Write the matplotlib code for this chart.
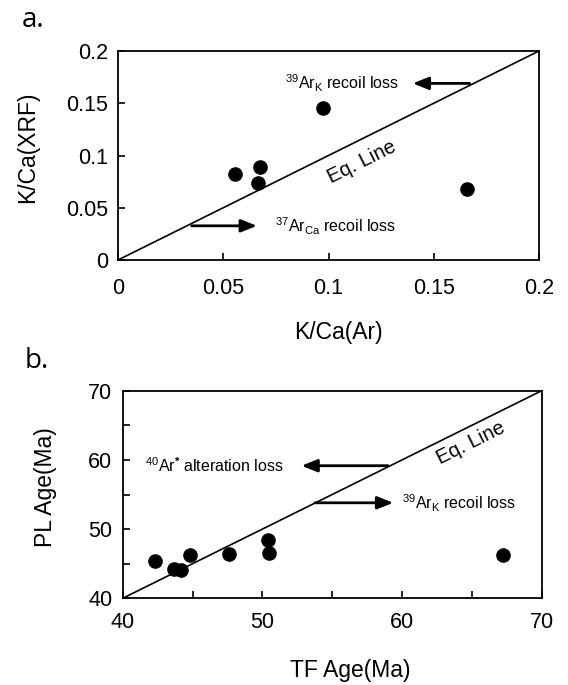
import matplotlib
matplotlib.use("Agg")
import matplotlib.pyplot as plt
import numpy as np

plt.rcParams['font.family'] = ['Liberation Sans', 'DejaVu Sans']
plt.rcParams['mathtext.fontset'] = 'custom'
plt.rcParams['mathtext.rm'] = 'Liberation Sans'
plt.rcParams['mathtext.it'] = 'Liberation Sans:italic'
plt.rcParams['mathtext.bf'] = 'Liberation Sans:bold'

# Panel a data
kca_ar = [0.0556, 0.0676, 0.0665, 0.0975, 0.166]
kca_xrf = [0.082, 0.089, 0.0734, 0.145, 0.068]

# Panel b data
tf_age = [42.3, 43.7, 44.2, 44.8, 47.6, 50.4, 50.5, 67.25]
pl_age = [45.4, 44.3, 44.1, 46.2, 46.4, 48.4, 46.6, 46.2]

fig = plt.figure(figsize=(5.68, 6.85), dpi=100)

W, H = 568, 685
def rect(l, t, r, b):
    return [l / W, 1 - b / H, (r - l) / W, (b - t) / H]

axa = fig.add_axes(rect(118, 51, 539, 260))
axb = fig.add_axes(rect(122.7, 390.7, 541.7, 598.3))

mk = dict(marker='o', ms=9.5, color='black', ls='none')
ann_fs = 11.5
arrow_kw = dict(arrowstyle='-|>,head_length=0.95,head_width=0.38', lw=2, color='black', shrinkA=0, shrinkB=0)

# ---- Panel a
axa.plot([0, 0.2], [0, 0.2], color='black', lw=1.2)
axa.plot(kca_ar, kca_xrf, **mk)
axa.set_xlim(0, 0.2)
axa.set_ylim(0, 0.2)
axa.set_xticks([0, 0.05, 0.1, 0.15, 0.2])
axa.set_xticklabels(['0', '0.05', '0.1', '0.15', '0.2'])
axa.set_yticks([0, 0.05, 0.1, 0.15, 0.2])
axa.set_yticklabels(['0', '0.05', '0.1', '0.15', '0.2'])
axa.tick_params(direction='in', length=5, width=1.2, labelsize=15.5)
axa.tick_params(axis='x', pad=13)
axa.tick_params(axis='y', pad=7)
axa.set_xlabel('K/Ca(Ar)', fontsize=16.5)
axa.set_ylabel('K/Ca(XRF)', fontsize=16.5)
axa.xaxis.set_label_coords((338 - 118) / 421, -(332 - 260) / 209)
axa.xaxis.label.set_va('center')
axa.yaxis.set_label_coords((28 - 118) / 421, (260 - 147) / 209)
axa.yaxis.label.set_va('center')
for s in axa.spines.values():
    s.set_linewidth(1.3)

axa.annotate('', xy=(0.140, 0.169), xytext=(0.167, 0.169), arrowprops=arrow_kw)
axa.text(0.0795, 0.169, r'$^{39}$Ar$_{\mathrm{K}}$ recoil loss', fontsize=ann_fs, va='center', ha='left')
axa.annotate('', xy=(0.066, 0.0327), xytext=(0.035, 0.0327), arrowprops=arrow_kw)
axa.text(0.0745, 0.0327, r'$^{37}$Ar$_{\mathrm{Ca}}$ recoil loss', fontsize=ann_fs, va='center', ha='left')
axa.text(0.116, 0.094, 'Eq. Line', fontsize=14.5, rotation=26.4, ha='center', va='center', rotation_mode='anchor')

# ---- Panel b
axb.plot([40, 70], [40, 70], color='black', lw=1.2)
axb.plot(tf_age, pl_age, **mk)
axb.set_xlim(40, 70)
axb.set_ylim(40, 70)
axb.set_xticks([40, 50, 60, 70])
axb.set_xticks([45, 55, 65], minor=True)
axb.set_yticks([40, 50, 60, 70])
axb.set_yticks([45, 55, 65], minor=True)
axb.tick_params(which='both', direction='in', length=5, width=1.2, labelsize=15.5)
axb.tick_params(axis='x', pad=10)
axb.tick_params(axis='y', pad=7.5)
axb.set_xlabel('TF Age(Ma)', fontsize=16.5)
axb.set_ylabel('PL Age(Ma)', fontsize=16.5)
axb.xaxis.set_label_coords((350 - 122.7) / 419, -(670 - 598.3) / 207.6)
axb.xaxis.label.set_va('center')
axb.yaxis.set_label_coords((45 - 122.7) / 419, (598.3 - 487) / 207.6)
axb.yaxis.label.set_va('center')
for s in axb.spines.values():
    s.set_linewidth(1.3)

axb.annotate('', xy=(52.8, 59.16), xytext=(59.0, 59.16), arrowprops=arrow_kw)
axb.text(41.6, 59.16, r'$^{40}$Ar$^{\mathbf{*}}$ alteration loss', fontsize=ann_fs, va='center', ha='left')
axb.annotate('', xy=(59.37, 53.8), xytext=(53.77, 53.8), arrowprops=arrow_kw)
axb.text(60.0, 53.8, r'$^{39}$Ar$_{\mathrm{K}}$ recoil loss', fontsize=ann_fs, va='center', ha='left')
axb.text(64.9, 62.4, 'Eq. Line', fontsize=14.5, rotation=26.4, ha='center', va='center', rotation_mode='anchor')

fig.text(22 / W, 1 - 20 / H, 'a.', fontsize=20, family=['Open Sans', 'DejaVu Sans'], va='center', ha='left')
fig.text(25 / W, 1 - 361 / H, 'b.', fontsize=20, family=['Open Sans', 'DejaVu Sans'], va='center', ha='left')

fig.savefig('out.png', dpi=100)
